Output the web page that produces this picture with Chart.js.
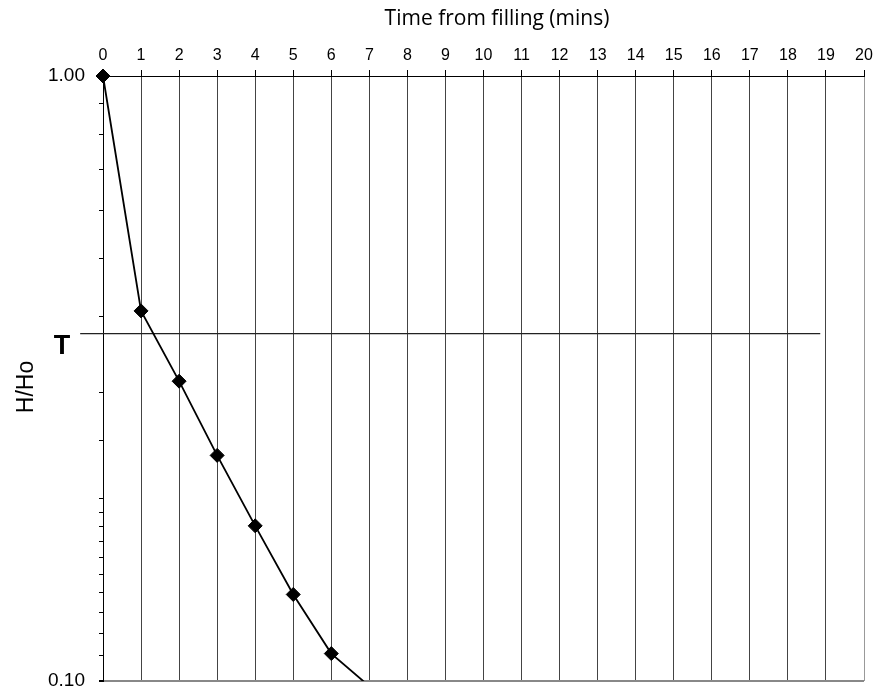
<!DOCTYPE html>
<html>
<head>
<meta charset="utf-8">
<script src="https://cdn.jsdelivr.net/npm/chart.js@4"></script>
<style>
  html, body { margin: 0; padding: 0; background: #fff; }
  #wrap { width: 889px; height: 690px; }
  canvas { display: block; }
</style>
</head>
<body>
<div id="wrap"><canvas id="chart" width="889" height="690"></canvas></div>
<script>
// Time from filling (mins) and measured H/Ho ratio
const minutes = [0, 1, 2, 3, 4, 5, 6, 7];
const ratio = [1.0, 0.409, 0.313, 0.236, 0.1805, 0.139, 0.111, 0.098];

// Horizontal "T" reference line
const tLevel = 0.375;
const tLineX = [-0.6, 18.85];

const xTicksMin = 0;
const xTicksMax = 20;
const yMin = 0.1;
const yMax = 1.0;

const FONT = 'Liberation Sans, Arial, sans-serif';

// extra texts (axis title, y title, T marker)
const labelsPlugin = {
  id: 'labels',
  afterDraw(chart) {
    const ctx = chart.ctx;
    const y = chart.scales.y;
    ctx.save();
    ctx.fillStyle = '#000';
    ctx.textAlign = 'center';
    ctx.textBaseline = 'middle';

    ctx.font = '21px "Open Sans", sans-serif';
    ctx.fillText('Time from filling (mins)', 497, 19);

    ctx.font = 'bold 27px ' + FONT;
    ctx.fillText('T', 62, y.getPixelForValue(tLevel) + 13);

    ctx.translate(27, 387);
    ctx.rotate(-Math.PI / 2);
    ctx.font = '23px ' + FONT;
    ctx.fillText('H/Ho', 0, 0);
    ctx.restore();
  }
};

new Chart(document.getElementById('chart'), {
  type: 'line',
  data: {
    datasets: [
      {
        data: minutes.map((m, i) => ({ x: m, y: ratio[i] })),
        borderColor: '#000',
        borderWidth: 1.8,
        backgroundColor: '#000',
        pointStyle: 'rectRot',
        pointRadius: minutes.map((m, i) => i === minutes.length - 1 ? 0 : 7),
        pointBorderWidth: 1,
        pointBackgroundColor: '#000',
        pointBorderColor: '#000',
        tension: 0,
        clip: { left: 10, top: 10, right: 0, bottom: 0 }
      },
      {
        data: tLineX.map(x => ({ x: x, y: tLevel })),
        borderColor: '#222',
        borderWidth: 1.3,
        pointRadius: 0,
        clip: false
      }
    ]
  },
  options: {
    responsive: false,
    animation: false,
    events: [],
    layout: { padding: { left: 0, right: 25, top: 0, bottom: 9 } },
    plugins: {
      legend: { display: false },
      tooltip: { enabled: false }
    },
    scales: {
      x: {
        type: 'linear',
        position: 'top',
        min: xTicksMin,
        max: xTicksMax,
        afterFit: s => { s.height = 76; },
        ticks: {
          stepSize: 1,
          autoSkip: false,
          maxRotation: 0,
          padding: 5,
          color: '#000',
          font: { family: FONT, size: 16 }
        },
        grid: {
          color: c => c.tick && c.tick.value === xTicksMax ? '#999' : '#444',
          tickColor: '#000',
          tickLength: 6,
          lineWidth: 1
        },
        border: { display: true, color: '#000', width: 1 }
      },
      y: {
        type: 'logarithmic',
        position: 'left',
        min: yMin,
        max: yMax,
        // fixed width, and no extra room reserved for the end labels
        afterFit: s => { s.width = 103; s.paddingTop = 0; s.paddingBottom = 0; },
        ticks: {
          autoSkip: false,
          padding: 14,
          color: '#000',
          font: { family: FONT, size: 19 },
          callback: v => (v === 1 || v === 0.1) ? v.toFixed(2) : ''
        },
        grid: {
          color: c => c.tick && c.tick.value === yMin ? '#888' : 'rgba(0,0,0,0)',
          lineWidth: c => c.tick && c.tick.value === yMin ? 2 : 1,
          tickColor: '#000',
          tickLength: 4
        },
        border: { display: true, color: '#000', width: 1 }
      }
    }
  },
  plugins: [labelsPlugin]
});
</script>
</body>
</html>
